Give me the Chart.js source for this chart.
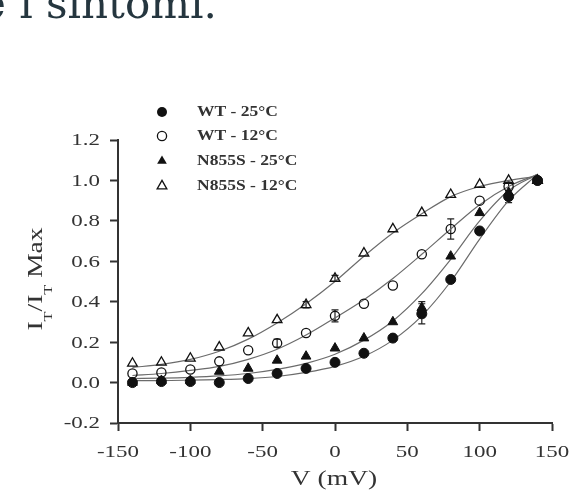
<!DOCTYPE html>
<html lang="it">
<head>
<meta charset="utf-8">
<title>I/I Max - V</title>
<script src="https://cdn.jsdelivr.net/npm/chart.js@4.4.1/dist/chart.umd.min.js"></script>
<style>
  html, body { margin: 0; padding: 0; background: #fff; }
  body { width: 571px; height: 494px; position: relative; overflow: hidden; }
  .heading {
    position: absolute; left: -19px; top: -21px;
    font-family: "DejaVu Serif", serif; font-size: 42px; line-height: normal;
    color: #25363f; white-space: nowrap;
  }
  #ivChart { position: absolute; left: 0; top: 0; filter: blur(0.55px); }
</style>
</head>
<body>
<canvas id="ivChart" width="571" height="494"></canvas>
<div class="heading">e i sintomi.</div>
<script>
// Test potentials (mV)
const voltages = [-140, -120, -100, -80, -60, -40, -20, 0, 20, 40, 60, 80, 100, 120, 140];

// Normalised current, mean values
const wt25 = [0.0, 0.005, 0.005, 0.0, 0.02, 0.045, 0.07, 0.1, 0.145, 0.22, 0.34, 0.51, 0.75, 0.92, 1.0];
const wt12 = [0.045, 0.05, 0.065, 0.105, 0.16, 0.195, 0.245, 0.33, 0.39, 0.48, 0.635, 0.76, 0.9, 0.97, 1.0];
const n855s25 = [0.0, 0.01, 0.01, 0.055, 0.07, 0.11, 0.13, 0.17, 0.22, 0.3, 0.37, 0.625, 0.84, 0.94, 1.0];
const n855s12 = [0.095, 0.1, 0.12, 0.175, 0.245, 0.31, 0.385, 0.515, 0.64, 0.76, 0.84, 0.93, 0.98, 1.0, 1.0];

// SEM (0 = bar hidden behind the marker)
const wt25Err = [0, 0, 0, 0, 0, 0, 0, 0, 0, 0, 0.05, 0, 0, 0.03, 0];
const wt12Err = [0, 0, 0, 0, 0, 0.02, 0, 0.03, 0, 0, 0, 0.05, 0, 0.02, 0];
const n855s25Err = [0, 0, 0, 0, 0, 0, 0, 0, 0, 0, 0.03, 0, 0, 0, 0];
const n855s12Err = [0, 0, 0, 0, 0, 0, 0.015, 0.015, 0, 0, 0, 0, 0, 0, 0];

// Boltzmann fits, sampled at the same potentials
const wt25Fit = [0.01, 0.01, 0.012, 0.015, 0.02, 0.03, 0.05, 0.08, 0.13, 0.21, 0.33, 0.5, 0.71, 0.9, 1.03];
const wt12Fit = [0.035, 0.045, 0.06, 0.08, 0.115, 0.165, 0.235, 0.32, 0.41, 0.515, 0.635, 0.76, 0.88, 0.97, 1.03];
const n855s25Fit = [0.02, 0.022, 0.026, 0.033, 0.045, 0.065, 0.095, 0.14, 0.21, 0.305, 0.44, 0.61, 0.8, 0.95, 1.03];
const n855s12Fit = [0.075, 0.09, 0.115, 0.155, 0.215, 0.295, 0.39, 0.5, 0.625, 0.74, 0.835, 0.92, 0.97, 1.0, 1.02];

const seriesLabels = ["WT - 25°C", "WT - 12°C", "N855S - 25°C", "N855S - 12°C"];
const xTicks = [-150, -100, -50, 0, 50, 100, 150];
const yTicks = [-0.2, 0, 0.2, 0.4, 0.6, 0.8, 1.0, 1.2];

const axisColor = "#333";
const inkColor = "#111";
const fitColor = "#6b6b6b";
const serif = "'Liberation Serif', 'Times New Roman', serif";

const markerStyles = [
  { pointStyle: "circle", radius: 5, filled: true },
  { pointStyle: "circle", radius: 4.6, filled: false },
  { pointStyle: "triangle", radius: 5.6, filled: true },
  { pointStyle: "triangle", radius: 5.6, filled: false },
];

function toPoints(values) {
  return voltages.map((v, i) => ({ x: v, y: values[i] }));
}

function markerDataset(label, values, errors, style) {
  return {
    label,
    data: toPoints(values),
    errors,
    showLine: false,
    order: 1,
    pointStyle: style.pointStyle,
    pointRadius: style.radius,
    pointBorderWidth: style.filled ? 1 : 1.3,
    pointBorderColor: inkColor,
    pointBackgroundColor: style.filled ? inkColor : "rgba(0,0,0,0)",
  };
}

function fitDataset(values) {
  return {
    label: "",
    data: toPoints(values),
    showLine: true,
    order: 2,
    borderColor: fitColor,
    borderWidth: 1.2,
    pointRadius: 0,
    cubicInterpolationMode: "monotone",
  };
}

// Markers and legend share this shape code
function drawMarker(ctx, style, x, y) {
  const r = style.radius;
  ctx.beginPath();
  if (style.pointStyle === "circle") {
    ctx.arc(x, y, r, 0, Math.PI * 2);
  } else {
    for (let k = 0; k < 3; k++) {
      const a = (k * 2 * Math.PI) / 3;
      const px = x + Math.sin(a) * r;
      const py = y - Math.cos(a) * r;
      if (k === 0) ctx.moveTo(px, py);
      else ctx.lineTo(px, py);
    }
    ctx.closePath();
  }
  if (style.filled) {
    ctx.fillStyle = inkColor;
    ctx.fill();
  } else {
    ctx.lineWidth = 1.3;
    ctx.strokeStyle = inkColor;
    ctx.stroke();
  }
}

// the figure's lettering is set wide, so text is stretched horizontally
function drawStretched(ctx, text, x, y, sx) {
  ctx.save();
  ctx.translate(x, y);
  ctx.scale(sx, 1);
  ctx.fillText(text, 0, 0);
  ctx.restore();
}

const errorBarPlugin = {
  id: "errorBars",
  beforeDatasetsDraw(chart) {
    const { ctx } = chart;
    const xs = chart.scales.x;
    const ys = chart.scales.y;
    ctx.save();
    ctx.strokeStyle = "#222";
    ctx.lineWidth = 1.2;
    chart.data.datasets.forEach((ds) => {
      if (!ds.errors) return;
      ds.data.forEach((pt, i) => {
        const err = ds.errors[i];
        if (!err) return;
        const px = xs.getPixelForValue(pt.x);
        const top = ys.getPixelForValue(pt.y + err);
        const bottom = ys.getPixelForValue(pt.y - err);
        ctx.beginPath();
        ctx.moveTo(px, top);
        ctx.lineTo(px, bottom);
        ctx.moveTo(px - 3.5, top);
        ctx.lineTo(px + 3.5, top);
        ctx.moveTo(px - 3.5, bottom);
        ctx.lineTo(px + 3.5, bottom);
        ctx.stroke();
      });
    });
    ctx.restore();
  },
};

const annotationPlugin = {
  id: "annotations",
  afterDraw(chart) {
    const { ctx, chartArea } = chart;
    const xs = chart.scales.x;
    const ys = chart.scales.y;
    ctx.save();
    ctx.fillStyle = axisColor;

    // tick labels
    ctx.font = "17px " + serif;
    ctx.textBaseline = "middle";
    ctx.textAlign = "center";
    xTicks.forEach((v) => {
      drawStretched(ctx, String(v), xs.getPixelForValue(v), 453, 1.35);
    });
    ctx.textAlign = "right";
    yTicks.forEach((v) => {
      drawStretched(ctx, v.toFixed(1), 100, ys.getPixelForValue(v) + 1, 1.35);
    });

    // legend block
    const rows = [112, 136, 161, 186];
    ctx.font = "bold 14px " + serif;
    ctx.textAlign = "left";
    seriesLabels.forEach((label, i) => {
      drawMarker(ctx, markerStyles[i], 162, rows[i]);
      ctx.fillStyle = axisColor;
      drawStretched(ctx, label, 197, rows[i], 1.25);
    });

    // x axis title
    ctx.font = "22px " + serif;
    ctx.textAlign = "center";
    ctx.textBaseline = "alphabetic";
    drawStretched(ctx, "V (mV)", (chartArea.left + chartArea.right) / 2 - 1, 485, 1.25);

    // y axis title with subscripts
    const parts = [
      { text: "I", size: 22, dy: 0 },
      { text: "T", size: 13, dy: 10 },
      { text: "/I", size: 22, dy: 0 },
      { text: "T", size: 13, dy: 10 },
      { text: " Max", size: 22, dy: 0 },
    ];
    let total = 0;
    parts.forEach((p) => {
      ctx.font = p.size + "px " + serif;
      p.w = ctx.measureText(p.text).width;
      total += p.w;
    });
    ctx.translate(42, 279);
    ctx.rotate(-Math.PI / 2);
    ctx.scale(1.25, 1);
    ctx.textAlign = "left";
    let cx = -total / 2;
    parts.forEach((p) => {
      ctx.font = p.size + "px " + serif;
      ctx.fillText(p.text, cx, p.dy);
      cx += p.w;
    });
    ctx.restore();
  },
};

function initializeChart() {
  const ctx = document.getElementById("ivChart").getContext("2d");
  const means = [wt25, wt12, n855s25, n855s12];
  const errors = [wt25Err, wt12Err, n855s25Err, n855s12Err];
  const fits = [wt25Fit, wt12Fit, n855s25Fit, n855s12Fit];

  const datasets = [];
  seriesLabels.forEach((label, i) => {
    datasets.push(markerDataset(label, means[i], errors[i], markerStyles[i]));
  });
  fits.forEach((f) => datasets.push(fitDataset(f)));

  const axisGrid = {
    drawOnChartArea: false,
    drawTicks: true,
    tickLength: 8,
    tickColor: axisColor,
    tickWidth: 2,
  };

  new Chart(ctx, {
    type: "line",
    data: { datasets },
    plugins: [errorBarPlugin, annotationPlugin],
    options: {
      responsive: false,
      animation: false,
      devicePixelRatio: 1,
      layout: { padding: { top: 140, right: 19, bottom: 0, left: 0 } },
      plugins: {
        legend: { display: false },
        tooltip: { enabled: false },
      },
      scales: {
        x: {
          type: "linear",
          min: -150,
          max: 150,
          afterBuildTicks: (scale) => {
            scale.ticks = xTicks.map((v) => ({ value: v }));
          },
          afterFit: (scale) => {
            scale.height = 71;
          },
          border: { display: true, color: axisColor, width: 2 },
          grid: axisGrid,
          ticks: { display: false },
        },
        y: {
          type: "linear",
          min: -0.2,
          max: 1.2,
          afterBuildTicks: (scale) => {
            scale.ticks = yTicks.map((v) => ({ value: v }));
          },
          afterFit: (scale) => {
            scale.width = 118;
          },
          border: { display: true, color: axisColor, width: 2 },
          grid: axisGrid,
          ticks: { display: false },
        },
      },
    },
  });
}

document.addEventListener("DOMContentLoaded", initializeChart);
</script>
</body>
</html>
